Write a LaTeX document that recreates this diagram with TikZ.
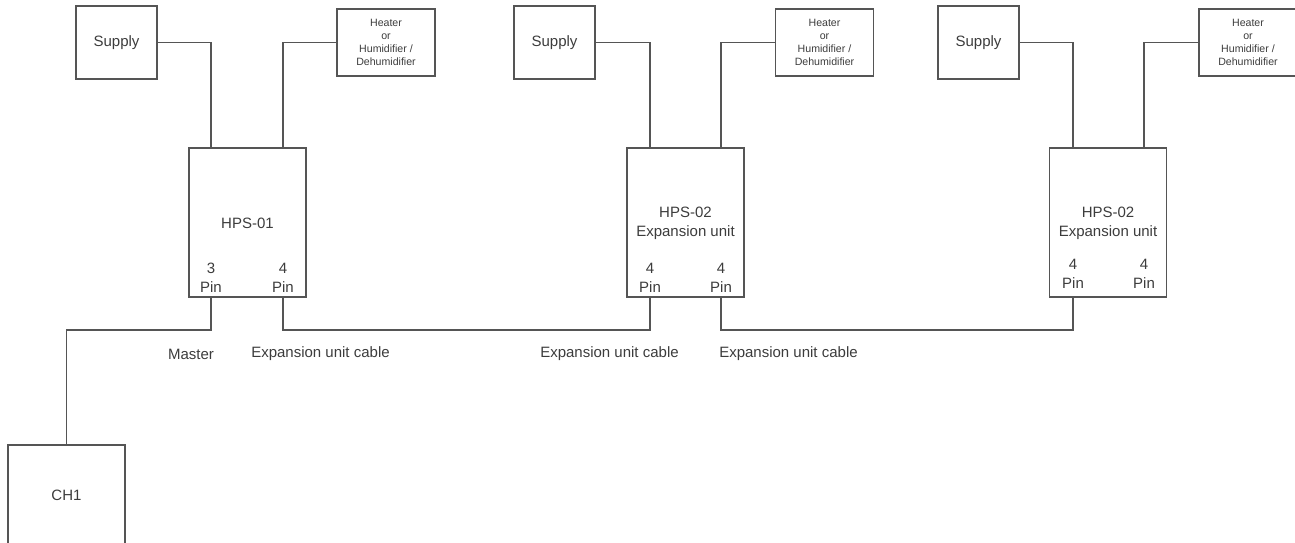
\documentclass[tikz,border=0pt]{standalone}
\usepackage{fontspec}
\setmainfont{Liberation Sans}
\definecolor{linec}{HTML}{555555}
\definecolor{textc}{HTML}{3C3C3C}
\begin{document}
\begin{tikzpicture}[x=1pt,y=-1pt,
  box/.style={draw=linec,line width=1.1pt,rectangle,inner sep=0pt,text=textc,align=center},
  supbox/.style={box,minimum width=81pt,minimum height=73pt,font=\fontsize{15}{19}\selectfont},
  heatbox/.style={box,minimum width=98pt,minimum height=67pt,font=\fontsize{10.6}{13}\selectfont},
  hpsbox/.style={box,minimum width=117pt,minimum height=149pt},
  txt/.style={inner sep=0pt,text=textc,align=center,font=\fontsize{15}{19}\selectfont},
  wire/.style={draw=linec,line width=1.1pt}]
\path[use as bounding box,clip] (0,0) rectangle (1295,542);

% block 1
\node[supbox] (sup1) at (116.5,42.5) {Supply};
\node[heatbox] (heat1) at (386,42.5) {Heater\\or\\Humidifier /\\Dehumidifier};
\node[hpsbox] (hps1) at (247.5,222.5) {};
\node[txt] (hps1t) at (247.5,223) {HPS-01};
\node[txt] (pin1a) at (211,277.5) {3\\Pin};
\node[txt] (pin1b) at (283,277.5) {4\\Pin};
\node[supbox,minimum width=117pt,minimum height=100pt] (ch1) at (66.5,495) {CH1};

% block 2
\node[supbox] (sup2) at (554.5,42.5) {Supply};
\node[heatbox] (heat2) at (824.5,42.5) {Heater\\or\\Humidifier /\\Dehumidifier};
\node[hpsbox] (hps2) at (685.5,222.5) {};
\node[txt] (hps2t) at (685.5,223.5) {HPS-02\\Expansion unit};
\node[txt] (pin2a) at (650,277.5) {4\\Pin};
\node[txt] (pin2b) at (721,277.5) {4\\Pin};

% block 3
\node[supbox] (sup3) at (978.5,42.5) {Supply};
\node[heatbox] (heat3) at (1248,42.5) {Heater\\or\\Humidifier /\\Dehumidifier};
\node[hpsbox] (hps3) at (1108,222.5) {};
\node[txt] (hps3t) at (1108,223.5) {HPS-02\\Expansion unit};
\node[txt] (pin3a) at (1073,273.5) {4\\Pin};
\node[txt] (pin3b) at (1144,273.5) {4\\Pin};

% labels
\node[txt] (lmaster) at (191,354) {Master};
\node[txt] (lcab1) at (320.5,354) {Expansion unit cable};
\node[txt] (lcab2) at (609.5,354) {Expansion unit cable};
\node[txt] (lcab3) at (788.5,354) {Expansion unit cable};

% attachment points
\coordinate (t1a) at (211,148);  \coordinate (t1b) at (283,148);
\coordinate (b1a) at (211,297);  \coordinate (b1b) at (283,297);
\coordinate (t2a) at (650,148);  \coordinate (t2b) at (721,148);
\coordinate (b2a) at (650,297);  \coordinate (b2b) at (721,297);
\coordinate (t3a) at (1073,148); \coordinate (t3b) at (1144,148);
\coordinate (b3a) at (1073,297);

% top wires
\draw[wire] (sup1.east) -| (t1a);
\draw[wire] (heat1.west) -| (t1b);
\draw[wire] (sup2.east) -| (t2a);
\draw[wire] (heat2.west) -| (t2b);
\draw[wire] (sup3.east) -| (t3a);
\draw[wire] (heat3.west) -| (t3b);

% bottom wires
\draw[wire] (b1a) -- ++(0,33) -| (ch1.north);
\draw[wire] (b1b) -- ++(0,33) -| (b2a);
\draw[wire] (b2b) -- ++(0,33) -| (b3a);
\end{tikzpicture}
\end{document}
